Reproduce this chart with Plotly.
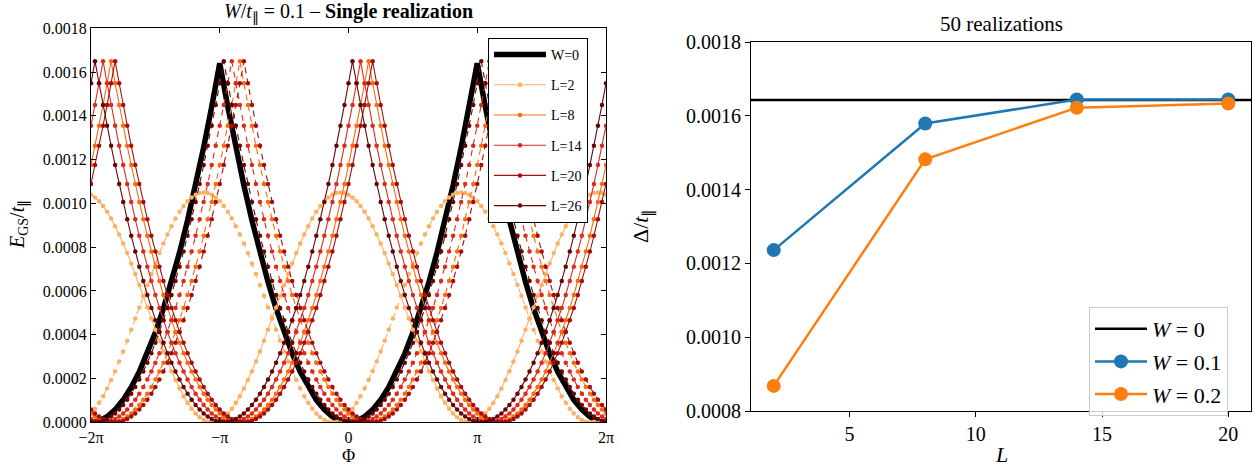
import numpy as np
import plotly.graph_objects as go

PI = np.pi
# ---------------- left panel data (energies in units of 1e-5) ----------------
phi = np.linspace(-2 * PI, 2 * PI, 129)      # flux sampling grid (step pi/32)
phi_w0 = np.linspace(-2 * PI, 2 * PI, 65)    # flux grid of the clean curve

e_w0 = [0, 0.64, 2.56, 5.77, 10.25, 16.02, 23.06, 31.39, 41.0, 51.89, 64.06, 77.52, 92.25, 108.27, 125.56, 144.14, 164,
        144.14, 125.56, 108.27, 92.25, 77.52, 64.06, 51.89, 41.0, 31.39, 23.06, 16.02, 10.25, 5.77, 2.56, 0.64, 0,
        0.64, 2.56, 5.77, 10.25, 16.02, 23.06, 31.39, 41.0, 51.89, 64.06, 77.52, 92.25, 108.27, 125.56, 144.14, 164,
        144.14, 125.56, 108.27, 92.25, 77.52, 64.06, 51.89, 41.0, 31.39, 23.06, 16.02, 10.25, 5.77, 2.56, 0.64, 0]

e_L2_solid = [104.0, 102.7, 101.0, 98.8, 96.2, 93.1, 89.6, 85.8, 81.7, 77.3, 72.6, 67.7, 62.7, 57.7, 52.5, 47.4, 42.3, 37.3, 32.4, 27.8, 23.3, 19.3, 15.4, 11.9, 8.9, 6.2, 4.0, 2.3, 1.0, 0.3, 0,
              0.3, 1.0, 2.3, 4.0, 6.2, 8.9, 11.9, 15.4, 19.3, 23.3, 27.8, 32.4, 37.3, 42.3, 47.4, 52.5, 57.7, 62.7, 67.7, 72.6, 77.3, 81.7, 85.8, 89.6, 93.1, 96.2, 98.8, 101.0, 102.7, 104.0, 104.8, 105,
              104.8, 104.0, 102.7, 101.0, 98.8, 96.2, 93.1, 89.6, 85.8, 81.7, 77.3, 72.6, 67.7, 62.7, 57.7, 52.5, 47.4, 42.3, 37.3, 32.4, 27.8, 23.3, 19.3, 15.4, 11.9, 8.9, 6.2, 4.0, 2.3, 1.0, 0.3, 0,
              0.3, 1.0, 2.3, 4.0, 6.2, 8.9, 11.9, 15.4, 19.3, 23.3, 27.8, 32.4, 37.3, 42.3, 47.4, 52.5, 57.7, 62.7, 67.7, 72.6, 77.3, 81.7, 85.8, 89.6, 93.1, 96.2, 98.8, 101.0, 102.7, 104.0, 104.8, 105,
              104.8, 104.0]

e_L2_dashed = [4.0, 6.2, 8.9, 11.9, 15.4, 19.3, 23.3, 27.8, 32.4, 37.3, 42.3, 47.4, 52.5, 57.7, 62.7, 67.7, 72.6, 77.3, 81.7, 85.8, 89.6, 93.1, 96.2, 98.8, 101.0, 102.7, 104.0, 104.8, 105,
               104.8, 104.0, 102.7, 101.0, 98.8, 96.2, 93.1, 89.6, 85.8, 81.7, 77.3, 72.6, 67.7, 62.7, 57.7, 52.5, 47.4, 42.3, 37.3, 32.4, 27.8, 23.3, 19.3, 15.4, 11.9, 8.9, 6.2, 4.0, 2.3, 1.0, 0.3, 0,
               0.3, 1.0, 2.3, 4.0, 6.2, 8.9, 11.9, 15.4, 19.3, 23.3, 27.8, 32.4, 37.3, 42.3, 47.4, 52.5, 57.7, 62.7, 67.7, 72.6, 77.3, 81.7, 85.8, 89.6, 93.1, 96.2, 98.8, 101.0, 102.7, 104.0, 104.8, 105,
               104.8, 104.0, 102.7, 101.0, 98.8, 96.2, 93.1, 89.6, 85.8, 81.7, 77.3, 72.6, 67.7, 62.7, 57.7, 52.5, 47.4, 42.3, 37.3, 32.4, 27.8, 23.3, 19.3, 15.4, 11.9, 8.9, 6.2, 4.0, 2.3, 1.0, 0.3, 0,
               0.3, 1.0, 2.3, 4.0]

e_L8_solid = [117.5, 126.3, 135.5, 145.0, 154.9, 165,
              154.9, 145.0, 135.5, 126.3, 117.5, 108.9, 100.7, 92.8, 85.2, 78.0, 71.1, 64.5, 58.2, 52.2, 46.6, 41.3, 36.3, 31.6, 27.2, 23.2, 19.5, 16.1, 13.1, 10.3, 7.9, 5.8, 4.0, 2.6, 1.5, 0.6, 0.2, 0,
              0.2, 0.6, 1.5, 2.6, 4.0, 5.8, 7.9, 10.3, 13.1, 16.1, 19.5, 23.2, 27.2, 31.6, 36.3, 41.3, 46.6, 52.2, 58.2, 64.5, 71.1, 78.0, 85.2, 92.8, 100.7, 108.9, 117.5, 126.3, 135.5, 145.0, 154.9, 165,
              154.9, 145.0, 135.5, 126.3, 117.5, 108.9, 100.7, 92.8, 85.2, 78.0, 71.1, 64.5, 58.2, 52.2, 46.6, 41.3, 36.3, 31.6, 27.2, 23.2, 19.5, 16.1, 13.1, 10.3, 7.9, 5.8, 4.0, 2.6, 1.5, 0.6, 0.2, 0,
              0.2, 0.6, 1.5, 2.6, 4.0, 5.8, 7.9, 10.3, 13.1, 16.1, 19.5, 23.2, 27.2, 31.6, 36.3, 41.3, 46.6, 52.2, 58.2, 64.5, 71.1, 78.0, 85.2, 92.8, 100.7, 108.9, 117.5]

e_L8_dashed = [4.0, 2.6, 1.5, 0.6, 0.2, 0,
               0.2, 0.6, 1.5, 2.6, 4.0, 5.8, 7.9, 10.3, 13.1, 16.1, 19.5, 23.2, 27.2, 31.6, 36.3, 41.3, 46.6, 52.2, 58.2, 64.5, 71.1, 78.0, 85.2, 92.8, 100.7, 108.9, 117.5, 126.3, 135.5, 145.0, 154.9, 165,
               154.9, 145.0, 135.5, 126.3, 117.5, 108.9, 100.7, 92.8, 85.2, 78.0, 71.1, 64.5, 58.2, 52.2, 46.6, 41.3, 36.3, 31.6, 27.2, 23.2, 19.5, 16.1, 13.1, 10.3, 7.9, 5.8, 4.0, 2.6, 1.5, 0.6, 0.2, 0,
               0.2, 0.6, 1.5, 2.6, 4.0, 5.8, 7.9, 10.3, 13.1, 16.1, 19.5, 23.2, 27.2, 31.6, 36.3, 41.3, 46.6, 52.2, 58.2, 64.5, 71.1, 78.0, 85.2, 92.8, 100.7, 108.9, 117.5, 126.3, 135.5, 145.0, 154.9, 165,
               154.9, 145.0, 135.5, 126.3, 117.5, 108.9, 100.7, 92.8, 85.2, 78.0, 71.1, 64.5, 58.2, 52.2, 46.6, 41.3, 36.3, 31.6, 27.2, 23.2, 19.5, 16.1, 13.1, 10.3, 7.9, 5.8, 4.0]

e_L14_solid = [135.5, 145.0, 154.9, 165,
               154.9, 145.0, 135.5, 126.3, 117.5, 108.9, 100.7, 92.8, 85.2, 78.0, 71.1, 64.5, 58.2, 52.2, 46.6, 41.3, 36.3, 31.6, 27.2, 23.2, 19.5, 16.1, 13.1, 10.3, 7.9, 5.8, 4.0, 2.6, 1.5, 0.6, 0.2, 0,
               0.2, 0.6, 1.5, 2.6, 4.0, 5.8, 7.9, 10.3, 13.1, 16.1, 19.5, 23.2, 27.2, 31.6, 36.3, 41.3, 46.6, 52.2, 58.2, 64.5, 71.1, 78.0, 85.2, 92.8, 100.7, 108.9, 117.5, 126.3, 135.5, 145.0, 154.9, 165,
               154.9, 145.0, 135.5, 126.3, 117.5, 108.9, 100.7, 92.8, 85.2, 78.0, 71.1, 64.5, 58.2, 52.2, 46.6, 41.3, 36.3, 31.6, 27.2, 23.2, 19.5, 16.1, 13.1, 10.3, 7.9, 5.8, 4.0, 2.6, 1.5, 0.6, 0.2, 0,
               0.2, 0.6, 1.5, 2.6, 4.0, 5.8, 7.9, 10.3, 13.1, 16.1, 19.5, 23.2, 27.2, 31.6, 36.3, 41.3, 46.6, 52.2, 58.2, 64.5, 71.1, 78.0, 85.2, 92.8, 100.7, 108.9, 117.5, 126.3, 135.5]

e_L14_dashed = [1.5, 0.6, 0.2, 0,
                0.2, 0.6, 1.5, 2.6, 4.0, 5.8, 7.9, 10.3, 13.1, 16.1, 19.5, 23.2, 27.2, 31.6, 36.3, 41.3, 46.6, 52.2, 58.2, 64.5, 71.1, 78.0, 85.2, 92.8, 100.7, 108.9, 117.5, 126.3, 135.5, 145.0, 154.9, 165,
                154.9, 145.0, 135.5, 126.3, 117.5, 108.9, 100.7, 92.8, 85.2, 78.0, 71.1, 64.5, 58.2, 52.2, 46.6, 41.3, 36.3, 31.6, 27.2, 23.2, 19.5, 16.1, 13.1, 10.3, 7.9, 5.8, 4.0, 2.6, 1.5, 0.6, 0.2, 0,
                0.2, 0.6, 1.5, 2.6, 4.0, 5.8, 7.9, 10.3, 13.1, 16.1, 19.5, 23.2, 27.2, 31.6, 36.3, 41.3, 46.6, 52.2, 58.2, 64.5, 71.1, 78.0, 85.2, 92.8, 100.7, 108.9, 117.5, 126.3, 135.5, 145.0, 154.9, 165,
                154.9, 145.0, 135.5, 126.3, 117.5, 108.9, 100.7, 92.8, 85.2, 78.0, 71.1, 64.5, 58.2, 52.2, 46.6, 41.3, 36.3, 31.6, 27.2, 23.2, 19.5, 16.1, 13.1, 10.3, 7.9, 5.8, 4.0, 2.6, 1.5]

e_L20_solid = [108.9, 117.5, 126.3, 135.5, 145.0, 154.9, 165,
               154.9, 145.0, 135.5, 126.3, 117.5, 108.9, 100.7, 92.8, 85.2, 78.0, 71.1, 64.5, 58.2, 52.2, 46.6, 41.3, 36.3, 31.6, 27.2, 23.2, 19.5, 16.1, 13.1, 10.3, 7.9, 5.8, 4.0, 2.6, 1.5, 0.6, 0.2, 0,
               0.2, 0.6, 1.5, 2.6, 4.0, 5.8, 7.9, 10.3, 13.1, 16.1, 19.5, 23.2, 27.2, 31.6, 36.3, 41.3, 46.6, 52.2, 58.2, 64.5, 71.1, 78.0, 85.2, 92.8, 100.7, 108.9, 117.5, 126.3, 135.5, 145.0, 154.9, 165,
               154.9, 145.0, 135.5, 126.3, 117.5, 108.9, 100.7, 92.8, 85.2, 78.0, 71.1, 64.5, 58.2, 52.2, 46.6, 41.3, 36.3, 31.6, 27.2, 23.2, 19.5, 16.1, 13.1, 10.3, 7.9, 5.8, 4.0, 2.6, 1.5, 0.6, 0.2, 0,
               0.2, 0.6, 1.5, 2.6, 4.0, 5.8, 7.9, 10.3, 13.1, 16.1, 19.5, 23.2, 27.2, 31.6, 36.3, 41.3, 46.6, 52.2, 58.2, 64.5, 71.1, 78.0, 85.2, 92.8, 100.7, 108.9]

e_L20_dashed = [5.8, 4.0, 2.6, 1.5, 0.6, 0.2, 0,
                0.2, 0.6, 1.5, 2.6, 4.0, 5.8, 7.9, 10.3, 13.1, 16.1, 19.5, 23.2, 27.2, 31.6, 36.3, 41.3, 46.6, 52.2, 58.2, 64.5, 71.1, 78.0, 85.2, 92.8, 100.7, 108.9, 117.5, 126.3, 135.5, 145.0, 154.9, 165,
                154.9, 145.0, 135.5, 126.3, 117.5, 108.9, 100.7, 92.8, 85.2, 78.0, 71.1, 64.5, 58.2, 52.2, 46.6, 41.3, 36.3, 31.6, 27.2, 23.2, 19.5, 16.1, 13.1, 10.3, 7.9, 5.8, 4.0, 2.6, 1.5, 0.6, 0.2, 0,
                0.2, 0.6, 1.5, 2.6, 4.0, 5.8, 7.9, 10.3, 13.1, 16.1, 19.5, 23.2, 27.2, 31.6, 36.3, 41.3, 46.6, 52.2, 58.2, 64.5, 71.1, 78.0, 85.2, 92.8, 100.7, 108.9, 117.5, 126.3, 135.5, 145.0, 154.9, 165,
                154.9, 145.0, 135.5, 126.3, 117.5, 108.9, 100.7, 92.8, 85.2, 78.0, 71.1, 64.5, 58.2, 52.2, 46.6, 41.3, 36.3, 31.6, 27.2, 23.2, 19.5, 16.1, 13.1, 10.3, 7.9, 5.8]

e_L26_solid = [154.9, 165,
               154.9, 145.0, 135.5, 126.3, 117.5, 108.9, 100.7, 92.8, 85.2, 78.0, 71.1, 64.5, 58.2, 52.2, 46.6, 41.3, 36.3, 31.6, 27.2, 23.2, 19.5, 16.1, 13.1, 10.3, 7.9, 5.8, 4.0, 2.6, 1.5, 0.6, 0.2, 0,
               0.2, 0.6, 1.5, 2.6, 4.0, 5.8, 7.9, 10.3, 13.1, 16.1, 19.5, 23.2, 27.2, 31.6, 36.3, 41.3, 46.6, 52.2, 58.2, 64.5, 71.1, 78.0, 85.2, 92.8, 100.7, 108.9, 117.5, 126.3, 135.5, 145.0, 154.9, 165,
               154.9, 145.0, 135.5, 126.3, 117.5, 108.9, 100.7, 92.8, 85.2, 78.0, 71.1, 64.5, 58.2, 52.2, 46.6, 41.3, 36.3, 31.6, 27.2, 23.2, 19.5, 16.1, 13.1, 10.3, 7.9, 5.8, 4.0, 2.6, 1.5, 0.6, 0.2, 0,
               0.2, 0.6, 1.5, 2.6, 4.0, 5.8, 7.9, 10.3, 13.1, 16.1, 19.5, 23.2, 27.2, 31.6, 36.3, 41.3, 46.6, 52.2, 58.2, 64.5, 71.1, 78.0, 85.2, 92.8, 100.7, 108.9, 117.5, 126.3, 135.5, 145.0, 154.9]

e_L26_dashed = [0.2, 0,
                0.2, 0.6, 1.5, 2.6, 4.0, 5.8, 7.9, 10.3, 13.1, 16.1, 19.5, 23.2, 27.2, 31.6, 36.3, 41.3, 46.6, 52.2, 58.2, 64.5, 71.1, 78.0, 85.2, 92.8, 100.7, 108.9, 117.5, 126.3, 135.5, 145.0, 154.9, 165,
                154.9, 145.0, 135.5, 126.3, 117.5, 108.9, 100.7, 92.8, 85.2, 78.0, 71.1, 64.5, 58.2, 52.2, 46.6, 41.3, 36.3, 31.6, 27.2, 23.2, 19.5, 16.1, 13.1, 10.3, 7.9, 5.8, 4.0, 2.6, 1.5, 0.6, 0.2, 0,
                0.2, 0.6, 1.5, 2.6, 4.0, 5.8, 7.9, 10.3, 13.1, 16.1, 19.5, 23.2, 27.2, 31.6, 36.3, 41.3, 46.6, 52.2, 58.2, 64.5, 71.1, 78.0, 85.2, 92.8, 100.7, 108.9, 117.5, 126.3, 135.5, 145.0, 154.9, 165,
                154.9, 145.0, 135.5, 126.3, 117.5, 108.9, 100.7, 92.8, 85.2, 78.0, 71.1, 64.5, 58.2, 52.2, 46.6, 41.3, 36.3, 31.6, 27.2, 23.2, 19.5, 16.1, 13.1, 10.3, 7.9, 5.8, 4.0, 2.6, 1.5, 0.6, 0.2]

sizes = [2, 8, 14, 20, 26]
solid_curves = [e_L2_solid, e_L8_solid, e_L14_solid, e_L20_solid, e_L26_solid]
dashed_curves = [e_L2_dashed, e_L8_dashed, e_L14_dashed, e_L20_dashed, e_L26_dashed]
size_colors = ["#feb062", "#fd6a0a", "#dc2a1c", "#a80d0d", "#680505"]

phi_tickvals = [-2 * PI, -PI, 0, PI, 2 * PI]
phi_ticktext = ["\u22122\u03c0", "\u2212\u03c0", "0", "\u03c0", "2\u03c0"]
e_ticks = [0.0, 0.0002, 0.0004, 0.0006, 0.0008, 0.0010, 0.0012, 0.0014, 0.0016, 0.0018]

# ---------------- right panel data ----------------
L_vals = [2, 8, 14, 20]
gap_W01 = [0.001236, 0.001579, 0.001644, 0.001644]
gap_W02 = [0.000868, 0.001482, 0.001622, 0.001633]
gap_W0 = 0.001643
gap_ticks = [0.0008, 0.0010, 0.0012, 0.0014, 0.0016, 0.0018]
L_ticks = [5, 10, 15, 20]

SERIF = "Liberation Serif"
W, H = 1259, 471


def px(x):   # window x pixel -> paper fraction
    return x / W


def py(y):   # window y pixel -> paper fraction
    return 1 - y / H


fig = go.Figure()

# clean curve
fig.add_trace(go.Scatter(x=phi_w0, y=np.array(e_w0) * 1e-5, mode="lines",
                         line=dict(color="black", width=5.5), name="W=0",
                         legend="legend", legendgroup="w0"))
for L, es, ed, c in zip(sizes, solid_curves, dashed_curves, size_colors):
    fig.add_trace(go.Scatter(x=phi, y=np.array(es) * 1e-5, mode="lines+markers",
                             line=dict(color=c, width=1.1), marker=dict(color=c, size=4.5),
                             name=f"L={L}", legend="legend", legendgroup=f"L{L}"))
    fig.add_trace(go.Scatter(x=phi, y=np.array(ed) * 1e-5, mode="lines+markers",
                             line=dict(color=c, width=1.1, dash="6px,5px"),
                             marker=dict(color=c, size=4.5),
                             name=f"L={L}", showlegend=False, legend="legend",
                             legendgroup=f"L{L}"))

# right panel
fig.add_trace(go.Scatter(x=[None], y=[None], mode="lines", line=dict(color="black", width=2.5),
                         name="<i>W</i> = 0", xaxis="x2", yaxis="y2", legend="legend2",
                         legendgroup="r0"))
fig.add_trace(go.Scatter(x=L_vals, y=gap_W01, mode="lines+markers",
                         line=dict(color="#1f77b4", width=2.5), marker=dict(color="#1f77b4", size=14),
                         name="<i>W</i> = 0.1", xaxis="x2", yaxis="y2", legend="legend2",
                         legendgroup="r1"))
fig.add_trace(go.Scatter(x=L_vals, y=gap_W02, mode="lines+markers",
                         line=dict(color="#ff7f0e", width=2.5), marker=dict(color="#ff7f0e", size=14),
                         name="<i>W</i> = 0.2", xaxis="x2", yaxis="y2", legend="legend2",
                         legendgroup="r2"))

fig.add_shape(type="line", xref="x2 domain", x0=0, x1=1, yref="y2", y0=gap_W0, y1=gap_W0,
              line=dict(color="black", width=2.5), layer="below")

fig.update_layout(
    template="none",
    width=W, height=H, margin=dict(l=0, r=0, t=0, b=0, pad=0, autoexpand=False),
    paper_bgcolor="white", plot_bgcolor="white",
    font=dict(family=SERIF, color="black", size=16),
    xaxis=dict(domain=[px(91), px(606)], range=[-2 * PI, 2 * PI], tickvals=phi_tickvals,
               ticktext=phi_ticktext, ticks="inside", ticklen=5, tickcolor="black",
               showline=True, linecolor="black", linewidth=1, mirror="ticks", automargin=False,
               showgrid=False, zeroline=False, tickfont=dict(size=16, family=SERIF, color="black"),
               anchor="y"),
    yaxis=dict(domain=[py(422.3), py(28.3)], range=[0, 0.0018], tickvals=e_ticks,
               tickformat=".4f", ticks="inside", ticklen=5, tickcolor="black",
               showline=True, linecolor="black", linewidth=1, mirror="ticks", automargin=False,
               showgrid=False, zeroline=False, tickfont=dict(size=16, family=SERIF, color="black"),
               anchor="x"),
    xaxis2=dict(domain=[px(751), px(1251)], range=[1.1, 20.9], tickvals=L_ticks,
                ticks="outside", ticklen=5, tickcolor="black",
                showline=True, linecolor="black", linewidth=1, mirror=True, automargin=False,
                showgrid=False, zeroline=False, tickfont=dict(size=20, family=SERIF, color="black"),
                anchor="y2"),
    yaxis2=dict(domain=[py(411), py(42)], range=[0.0008, 0.0018], tickvals=gap_ticks,
                tickformat=".4f", ticks="outside", ticklen=5, tickcolor="black",
                showline=True, linecolor="black", linewidth=1, mirror=True, automargin=False,
                showgrid=False, zeroline=False, tickfont=dict(size=20, family=SERIF, color="black"),
                anchor="x2"),
    legend=dict(x=px(488), y=py(38), xanchor="left", yanchor="top",
                bgcolor="white", bordercolor="black", borderwidth=1,
                font=dict(size=14, family=SERIF, color="black"), tracegroupgap=9, itemwidth=52),
    legend2=dict(x=px(1089), y=py(307), xanchor="left", yanchor="top",
                 bgcolor="rgba(255,255,255,0.8)", bordercolor="#cccccc", borderwidth=1,
                 font=dict(size=22, family=SERIF, color="black"), tracegroupgap=1, itemwidth=52),
    showlegend=True,
)

ann = [
    dict(text="<i>W</i>/<i>t</i><sub>\u2225</sub> = 0.1 \u2013 <b>Single realization</b>",
         x=px(348.5), y=py(13), size=20),
    dict(text="\u03a6", x=px(348.5), y=py(456), size=18),
    dict(text="<i>E</i><sub>GS</sub>/<i>t</i><sub>\u2225</sub>", x=px(18), y=py(225),
         textangle=-90, size=20),
    dict(text="50 realizations", x=px(1001), y=py(24), size=21),
    dict(text="<i>L</i>", x=px(1001), y=py(454), size=22),
    dict(text="\u0394/<i>t</i><sub>\u2225</sub>", x=px(642), y=py(226),
         textangle=-90, size=22),
]
for a in ann:
    s = a.pop("size")
    fig.add_annotation(xref="paper", yref="paper", showarrow=False, xanchor="center",
                       yanchor="middle", font=dict(size=s, family=SERIF, color="black"), **a)

# the page body has a default 8px margin; remove it so the figure fills the window exactly
fig.write_html("out.html", config={"displayModeBar": False},
               post_script="document.body.style.margin='0px';")
